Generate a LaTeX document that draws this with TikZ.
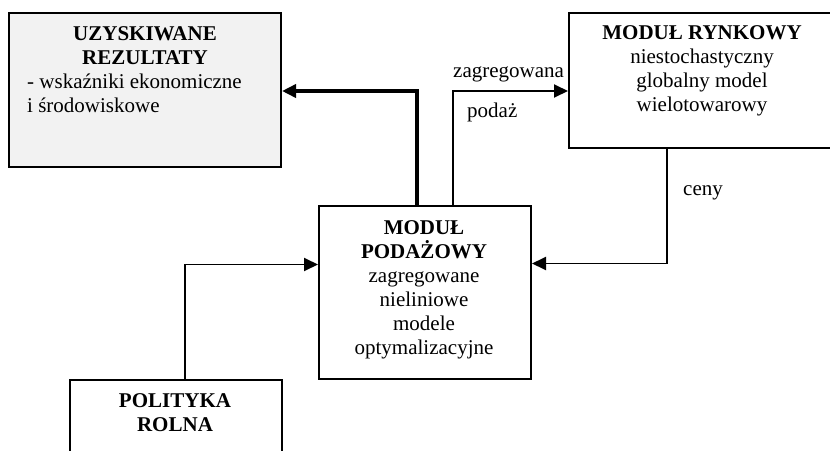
\documentclass[tikz,border=0pt]{standalone}
\usepackage{fontspec}
\setmainfont{Liberation Serif}
\usetikzlibrary{arrows.meta}
\definecolor{boxgray}{RGB}{242,242,242}
\begin{document}
\begin{tikzpicture}[x=1pt,y=-1pt,
  box/.style={draw=black,line width=2pt,rectangle,inner sep=0pt,anchor=north west},
  txt/.style={inner sep=0pt,font=\fontsize{21}{24}\selectfont,align=center},
  lbl/.style={inner sep=0pt,font=\fontsize{21}{24}\selectfont},
  conn/.style={line width=1.9pt,-{Triangle[length=14pt,width=13pt]}},
  thickconn/.style={line width=3.8pt,-{Triangle[length=14pt,width=13pt]}}]
\useasboundingbox (0,0) rectangle (830,450);
\clip (0,0) rectangle (830,450);
% boxes
\node[box,fill=boxgray,minimum width=272pt,minimum height=154pt] (uzy) at (8,12) {};
\node[box,minimum width=272pt,minimum height=135pt] (ryn) at (568,12) {};
\node[box,minimum width=212pt,minimum height=173pt] (sup) at (318,205) {};
\node[box,minimum width=212pt,minimum height=100pt] (pol) at (69,379) {};
% texts
\node[txt,font=\fontsize{21}{24}\selectfont\bfseries] (uzyt) at (145,46) {UZYSKIWANE\\REZULTATY};
\node[txt,align=left,anchor=north west] (uzyb) at (27,74) {- wskaźniki ekonomiczne\\i środowiskowe};
\node[txt] (rynt) at (702,71) {\textbf{MODUŁ RYNKOWY}\\niestochastyczny\\globalny model\\wielotowarowy};
\node[txt] (supt) at (424,290) {\textbf{MODUŁ}\\\textbf{PODAŻOWY}\\zagregowane\\nieliniowe\\modele\\optymalizacyjne};
\node[txt,font=\fontsize{21}{24}\selectfont\bfseries] (polt) at (175,413) {POLITYKA\\ROLNA};
% connectors
\coordinate (c1) at ([xshift=-8pt]sup.north);
\coordinate (c2) at ([xshift=28pt]sup.north);
\coordinate (c3) at ([yshift=-1pt]uzy.east);
\coordinate (c4) at (ryn.west |- c3);
\coordinate (c5) at ([xshift=-38pt]ryn.south);
\coordinate (c6) at ([yshift=29pt]sup.east);
\coordinate (c7) at ([xshift=9pt]pol.north);
\coordinate (c8) at ([yshift=28pt]sup.west);
\draw[thickconn] (c1) |- (c3);
\draw[conn] (c2) |- (c4);
\draw[conn] (c5) |- (c6);
\draw[conn] (c7) |- (c8);
% labels
\node[lbl,anchor=west] (lz) at (453,74) {zagregowana};
\node[lbl,anchor=west] (lp) at (467,112) {podaż};
\node[lbl,anchor=west] (lc) at (683,193) {ceny};
\end{tikzpicture}
\end{document}
